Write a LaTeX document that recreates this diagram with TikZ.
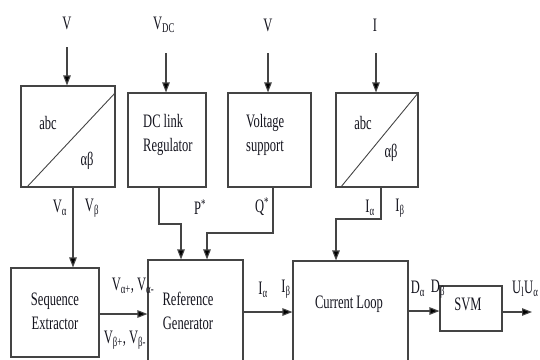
\documentclass[tikz,border=0pt]{standalone}
\usepackage{fontspec}
\setmainfont{Liberation Serif}[FakeStretch=0.66]
\usetikzlibrary{arrows.meta,calc}
\definecolor{ln}{HTML}{444444}
\definecolor{tx}{HTML}{14141E}
\tikzset{
  blk/.style={draw=ln,line width=1.1pt,inner sep=0pt,minimum width=#1},
  lbl/.style={text=tx,inner sep=0pt,font=\fontsize{19}{24}\selectfont},
  txt/.style={text=tx,inner sep=0pt,align=left,font=\fontsize{19}{24}\selectfont},
  con/.style={draw=ln,line width=1.1pt},
  arr/.style={con,-{Triangle[length=10pt,width=7.5pt,fill=black]}},
}
\begin{document}
\begin{tikzpicture}[x=1pt,y=-1pt]
\useasboundingbox (0,0) rectangle (540,359);
\clip (0,0) rectangle (540,359);
% blocks
\node[blk=94pt,minimum height=101pt] (b1) at (68,136.5) {};
\node[blk=78pt,minimum height=94pt] (dc) at (167,140) {};
\node[blk=83pt,minimum height=94pt] (vs) at (269.5,140) {};
\node[blk=82pt,minimum height=94pt] (b2) at (377,140) {};
\node[blk=88pt,minimum height=89pt] (se) at (55,312.5) {};
\node[blk=95pt,minimum height=110pt] (rg) at (195.5,315) {};
\node[blk=115pt,minimum height=110pt] (cl) at (350.5,316) {};
\node[blk=62pt,minimum height=45pt] (svm) at (471,308.5) {};
% diagonals
\draw[con,line width=0.9pt] ([xshift=6pt]b1.south west) -- ([yshift=-7pt]b1.north east);
\draw[con,line width=0.9pt] ([xshift=5pt]b2.south west) -- (b2.north east);
% block texts
\node[txt] at (48,123) {abc};
\node[txt] at (87,161) {αβ};
\node[txt] at (363,123) {abc};
\node[txt] at (391,153) {αβ};
\node[txt,anchor=west] (dct) at (143,135) {DC link\\Regulator};
\node[txt,anchor=west] (vst) at (246,135) {Voltage\\support};
\node[txt,align=center] (set) at (55,311) {Sequence\\Extractor};
\node[txt,align=center] (rgt) at (188,311) {Reference\\Generator};
\node[txt] (clt) at (349,304) {Current Loop};
\node[txt] (svmt) at (468,304) {SVM};
% input labels
\node[lbl] (vin) at (67,23) {V};
\node[lbl] (vdcin) at (164,25) {V\textsubscript{DC}};
\node[lbl] (v2in) at (268,25) {V};
\node[lbl] (iin) at (375,25) {I};
\coordinate (c1) at (67,47);
\coordinate (c2) at (166,53);
\coordinate (c3) at (268,53);
\coordinate (c4) at (376,53);
\draw[arr] (c1) -- (c1 |- b1.north);
\draw[arr] (c2) -- (c2 |- dc.north);
\draw[arr] (c3) -- (c3 |- vs.north);
\draw[arr] (c4) -- (c4 |- b2.north);
% signal labels
\node[lbl] at (60,208) {V\textsubscript{α}};
\node[lbl] at (92,208) {V\textsubscript{β}};
\node[lbl] at (200,207) {P\textsuperscript{*}};
\node[lbl] at (262,207) {Q\textsuperscript{*}};
\node[lbl] at (370,208) {I\textsubscript{α}};
\node[lbl] at (400,208) {I\textsubscript{β}};
\node[lbl] at (133,286) {V\textsubscript{α+}, V\textsubscript{α-}};
\node[lbl] at (125,340) {V\textsubscript{β+}, V\textsubscript{β-}};
\node[lbl] at (263,290) {I\textsubscript{α}};
\node[lbl] at (286,289) {I\textsubscript{β}};
\node[lbl] at (418,289) {D\textsubscript{α}};
\node[lbl] at (438,289) {D\textsubscript{β}};
\node[lbl,anchor=west] at (512,289) {U\textsubscript{l}U\textsubscript{α}};
% connectors
\draw[arr] ([xshift=5pt]b1.south) -- ([xshift=5pt]b1.south |- se.north);
\draw[arr] ([xshift=-8pt]dc.south) |- (181,224) -- (181,224 |- rg.north);
\draw[arr] ([xshift=3.5pt]vs.south) |- (207,233) -- (207,233 |- rg.north);
\draw[arr] ([xshift=4pt]b2.south) |- (336,219) -- (336,219 |- cl.north);
\draw[arr] (se.east |- 0,314) -- (rg.west |- 0,314);
\draw[arr] (rg.east |- 0,312) -- (cl.west |- 0,312);
\draw[arr] (cl.east |- 0,311) -- (svm.west |- 0,311);
\coordinate (out) at (532,312);
\draw[arr] (svm.east |- out) -- (out);
\end{tikzpicture}
\end{document}
